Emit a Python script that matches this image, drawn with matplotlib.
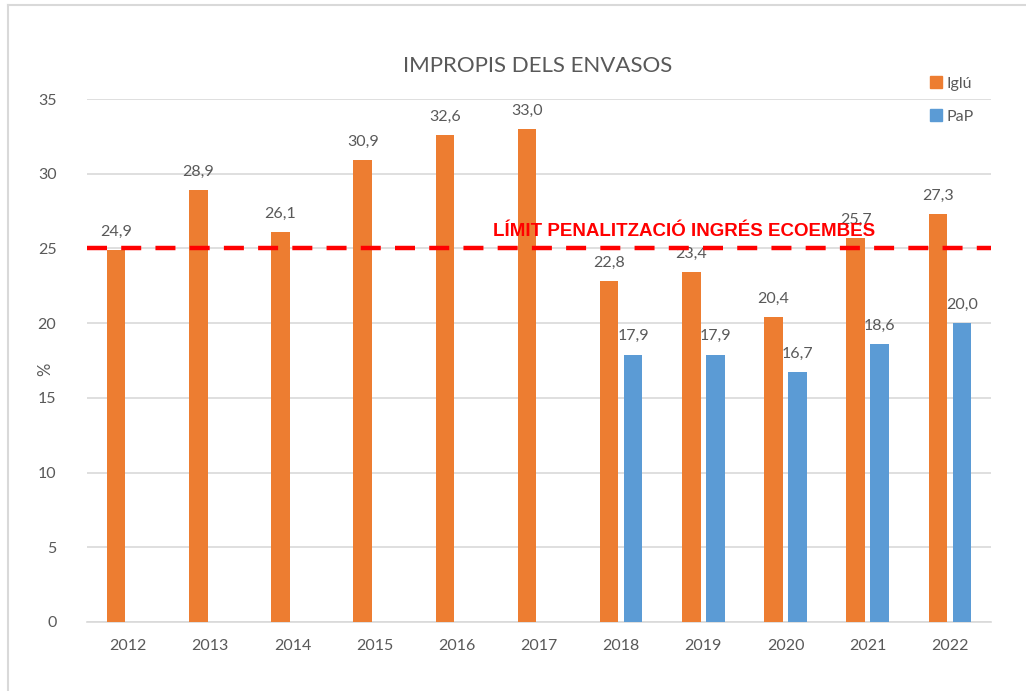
import matplotlib.pyplot as plt
from matplotlib.lines import Line2D
import numpy as np

# data
years = ['2012', '2013', '2014', '2015', '2016', '2017', '2018', '2019', '2020', '2021', '2022']
iglu = [24.9, 28.9, 26.1, 30.9, 32.6, 33.0, 22.8, 23.4, 20.4, 25.7, 27.3]
pap = [None, None, None, None, None, None, 17.9, 17.9, 16.7, 18.6, 20.0]
limit = 25
limit_label = 'LÍMIT PENALITZACIÓ INGRÉS ECOEMBES'

orange = '#ED7D31'
blue = '#5B9BD5'
grey = '#595959'

plt.rcParams['font.family'] = ['Lato', 'DejaVu Sans']

fig = plt.figure(figsize=(10.26, 6.91), dpi=100)
ax = fig.add_axes([0.0848, 0.0999, 0.8811, 0.7568])

x = np.arange(len(years))
w = 0.225
off = 0.146

ax.bar(x - off, iglu, width=w, color=orange, zorder=3)
px = [i for i, v in zip(x, pap) if v is not None]
pv = [v for v in pap if v is not None]
ax.bar(np.array(px) + off, pv, width=w, color=blue, zorder=3)

for i, v in zip(x, iglu):
    ax.text(i - off, v + 0.75, f'{v:.1f}'.replace('.', ','), ha='center', va='bottom',
            fontsize=11.5, color=grey, zorder=4)
for i, v in zip(px, pv):
    ax.text(i + off, v + 0.75, f'{v:.1f}'.replace('.', ','), ha='center', va='bottom',
            fontsize=11.5, color=grey, zorder=4)

ax.axhline(limit, color='#FF0000', lw=3.2, ls=(0, (4.5, 3.2)), zorder=5)
ax.text(6.76, 26.1, limit_label, ha='center', va='center', color='#FF0000',
        fontsize=13.5, fontweight='bold', family='Liberation Sans', zorder=6)

ax.set_xlim(-0.5, len(years) - 0.5)
ax.set_ylim(0, 35)
ax.set_yticks(range(0, 36, 5))
ax.set_xticks(x)
ax.set_xticklabels(years)
ax.tick_params(axis='both', length=0, colors=grey, labelsize=11.5)
ax.tick_params(axis='x', pad=12)
ax.tick_params(axis='y', pad=22)
ax.yaxis.grid(True, color='#D9D9D9', lw=1.2, zorder=0)
for s in ['top', 'right', 'left']:
    ax.spines[s].set_visible(False)
ax.spines['bottom'].set_color('#D9D9D9')
ax.spines['bottom'].set_linewidth(1.2)

fig.text(0.044, 0.465, '%', rotation=90, ha='center', va='center', color=grey, fontsize=12)
fig.text(0.524, 0.905, 'IMPROPIS DELS ENVASOS', ha='center', va='center',
         fontsize=16, color=grey)

handles = [Line2D([], [], marker='s', ls='', color=orange, markersize=8),
           Line2D([], [], marker='s', ls='', color=blue, markersize=8)]
fig.legend(handles, ['Iglú', 'PaP'], loc='center left', bbox_to_anchor=(0.89, 0.855),
           frameon=False, fontsize=11.5, labelcolor=grey, handletextpad=0.2,
           labelspacing=1.2, handlelength=1.0)

# chart area frame (only left and top visible in the reference)
fig.add_artist(Line2D([0.008, 0.008], [0.0, 0.993], color='#D9D9D9', lw=1.5,
                      transform=fig.transFigure))
fig.add_artist(Line2D([0.008, 1.0], [0.993, 0.993], color='#D9D9D9', lw=1.5,
                      transform=fig.transFigure))

fig.savefig('out.png', dpi=100)
